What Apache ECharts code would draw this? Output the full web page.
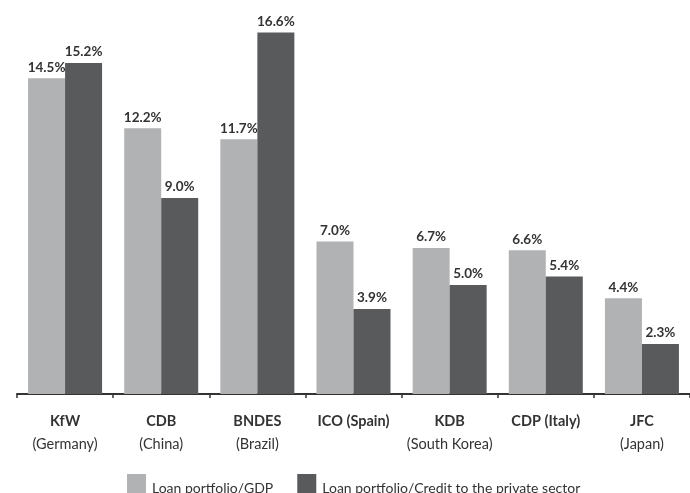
<!DOCTYPE html>
<html><head><meta charset="utf-8">
<script src="https://cdn.jsdelivr.net/npm/echarts@6/dist/echarts.min.js"></script>
<style>html,body{margin:0;padding:0;background:#fff}#c{width:690px;height:493px}</style>
</head><body><div id="c"></div>
<script>
var names = ['KfW', 'CDB', 'BNDES', 'ICO (Spain)', 'KDB', 'CDP (Italy)', 'JFC'];
var subs = ['(Germany)', '(China)', '(Brazil)', '', '(South Korea)', '', '(Japan)'];
var gdp = [14.5, 12.2, 11.7, 7.0, 6.7, 6.6, 4.4];
var credit = [15.2, 9.0, 16.6, 3.9, 5.0, 5.4, 2.3];
var seriesNames = ['Loan portfolio/GDP', 'Loan portfolio/Credit to the private sector'];

var cats = names.map(function (n, i) { return subs[i] ? n + '\n' + subs[i] : n; });
var FONT = 'Lato';
var chart = echarts.init(document.getElementById('c'));
var lbl = {
  show: true, position: 'top', distance: 4,
  formatter: function (p) { return p.value.toFixed(1) + '%'; },
  fontFamily: FONT, fontWeight: 'bold', fontSize: 13.5, color: '#333'
};
chart.setOption({
  animation: false,
  textStyle: { fontFamily: FONT },
  grid: { left: 17, width: 688, top: 2, bottom: 99, containLabel: false },
  legend: {
    left: 127, top: 474, padding: 0, itemWidth: 19, itemHeight: 20, itemGap: 24,
    icon: 'rect',
    formatter: function (n) { return '{t|' + n + '}'; },
    textStyle: {
      fontFamily: FONT, fontSize: 14, color: '#333',
      rich: { t: { fontFamily: FONT, fontSize: 14, color: '#333', padding: [9, 0, 0, 1] } }
    },
    data: seriesNames
  },
  xAxis: {
    type: 'category', data: cats,
    axisLine: { lineStyle: { color: '#333', width: 2 } },
    axisTick: { show: true, length: 4, lineStyle: { color: '#333', width: 1.5 } },
    axisLabel: {
      margin: 16, interval: 0,
      formatter: function (v) {
        var parts = v.split('\n');
        return parts.length > 1 ? '{b|' + parts[0] + '}\n{n|' + parts[1] + '}' : '{b|' + parts[0] + '}';
      },
      rich: {
        b: { fontFamily: FONT, fontWeight: 'bold', fontSize: 14.5, color: '#333', lineHeight: 23 },
        n: { fontFamily: FONT, fontSize: 14.5, color: '#333', lineHeight: 23 }
      }
    }
  },
  yAxis: { type: 'value', min: 0, max: 18, show: false, splitLine: { show: false } },
  series: [
    { name: seriesNames[0], type: 'bar', data: gdp, barWidth: 37, barGap: '0%',
      itemStyle: { color: '#b1b2b4' }, label: lbl },
    { name: seriesNames[1], type: 'bar', data: credit, barWidth: 37, barGap: '0%',
      itemStyle: { color: '#595a5c' }, label: lbl }
  ]
});
</script></body></html>
